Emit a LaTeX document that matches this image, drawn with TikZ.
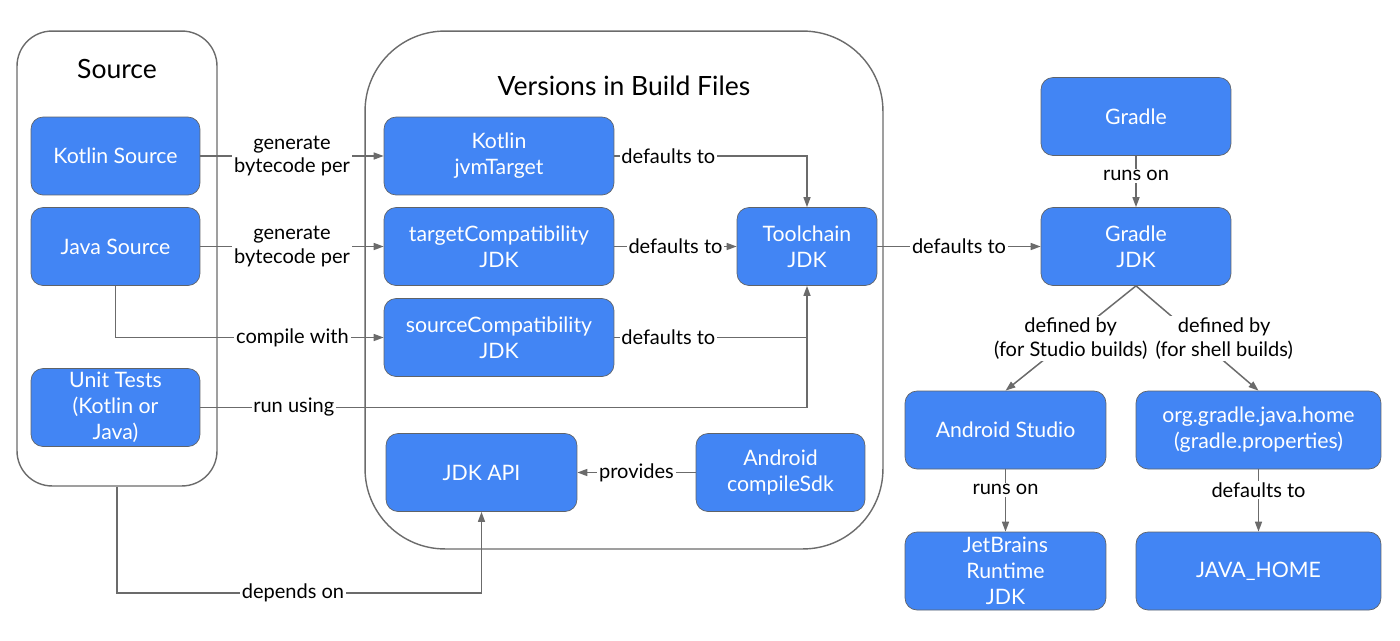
\documentclass[tikz,border=0pt]{standalone}
\usepackage{fontspec}
\setmainfont{Lato}
\usetikzlibrary{arrows.meta}
\definecolor{gblue}{HTML}{4285F4}
\definecolor{edgegray}{HTML}{6B6B6B}
\definecolor{boxline}{HTML}{5F6368}
\begin{document}
\begin{tikzpicture}[x=0.02cm, y=-0.02cm,
        box/.style={draw=boxline, fill=gblue, text=white, rounded corners=0.24cm, align=center,
            minimum height=1.56cm, inner sep=0pt, font=\fontsize{12.1}{14.7}\selectfont},
        group/.style={draw=edgegray, line width=0.8pt, inner sep=0pt},
        grouptitle/.style={font=\fontsize{15.1}{17}\selectfont},
        lbl/.style={fill=white, inner sep=1pt, align=center, font=\fontsize{11.4}{13.5}\selectfont},
        link/.style={draw=edgegray, line width=0.85pt},
        arr/.style={link, -{Stealth[inset=0pt, length=2mm, width=1.4mm]}}]
        \useasboundingbox (0,0) rectangle (1400,640);
        % the two groups
        \node[group, rounded corners=0.7cm, minimum width=4cm, minimum height=9.1cm] (source) at (117,258.5) {};
        \node[grouptitle] (sourcetitle) at (117,69) {Source};
        \node[group, rounded corners=1.6cm, minimum width=10.36cm, minimum height=10.36cm] (versions) at (624,290) {};
        \node[grouptitle] (versionstitle) at (624,86) {Versions in Build Files};
        % source side
        \node[box, minimum width=3.38cm] (kotlinsrc) at (115.5,156) {Kotlin Source};
        \node[box, minimum width=3.38cm] (javasrc) at (115.5,246.5) {Java Source};
        \node[box, minimum width=3.38cm] (tests) at (115.5,407.5) {Unit Tests\\(Kotlin or\\Java)};
        % build files
        \node[box, minimum width=4.6cm] (jvmtarget) at (499,156) {Kotlin\\jvmTarget};
        \node[box, minimum width=4.6cm] (targetcompat) at (499,246.5) {targetCompatibility\\JDK};
        \node[box, minimum width=4.6cm] (sourcecompat) at (499,337.5) {sourceCompatibility\\JDK};
        \node[box, minimum width=3.82cm] (jdkapi) at (481.5,472.5) {JDK API};
        \node[box, minimum width=3.38cm] (compilesdk) at (780.5,472.5) {Android\\compileSdk};
        \node[box, minimum width=2.8cm] (toolchain) at (807,246.5) {Toolchain\\JDK};
        % gradle side
        \node[box, minimum width=3.8cm] (gradle) at (1136,116.5) {Gradle};
        \node[box, minimum width=3.8cm] (gradlejdk) at (1136,246.5) {Gradle\\JDK};
        \node[box, minimum width=4.02cm] (studio) at (1005.5,430) {Android Studio};
        \node[box, minimum width=4.9cm] (javahomeprop) at (1258.5,430) {org.gradle.java.home\\(gradle.properties)};
        \node[box, minimum width=4.02cm] (jbr) at (1005.5,571) {JetBrains\\Runtime\\JDK};
        \node[box, minimum width=4.9cm] (javahome) at (1258.5,571) {JAVA\_HOME};
        % connectors
        \draw[arr] (kotlinsrc) -- node[lbl]{generate\\bytecode per} (jvmtarget);
        \draw[arr] (javasrc) -- node[lbl]{generate\\bytecode per} (targetcompat);
        \draw[arr] (javasrc.south) |- node[lbl, pos=0.83]{compile with} (sourcecompat.west);
        \draw[arr] (tests.east) -| node[lbl, pos=0.077]{run using} (toolchain.south);
        \draw[arr] (jvmtarget.east) -| node[lbl, pos=0.14]{defaults to} (toolchain.north);
        \draw[arr] (targetcompat) -- node[lbl]{defaults to} (toolchain);
        \draw[link] (sourcecompat.east) -- node[lbl, pos=0.28]{defaults to} (sourcecompat.east -| toolchain.south);
        \draw[arr] (toolchain) -- node[lbl]{defaults to} (gradlejdk);
        \draw[arr] (gradle) -- node[lbl, pos=0.39]{runs on} (gradlejdk);
        \draw[arr] (gradlejdk.south) -- node[lbl]{defined by\\(for Studio builds)} (studio.north);
        \draw[arr] (gradlejdk.south) -- node[lbl, xshift=0.54cm]{defined by\\(for shell builds)} (javahomeprop.north);
        \draw[arr] (studio) -- node[lbl, pos=0.33]{runs on} (jbr);
        \draw[arr] (javahomeprop) -- node[lbl, pos=0.33]{defaults to} (javahome);
        \draw[arr] (compilesdk) -- node[lbl]{provides} (jdkapi);
        \coordinate (dependson) at (293,593);
        \draw[arr] (source.south) |- (dependson) node[lbl]{depends on} -| (jdkapi.south);
    \end{tikzpicture}
\end{document}
